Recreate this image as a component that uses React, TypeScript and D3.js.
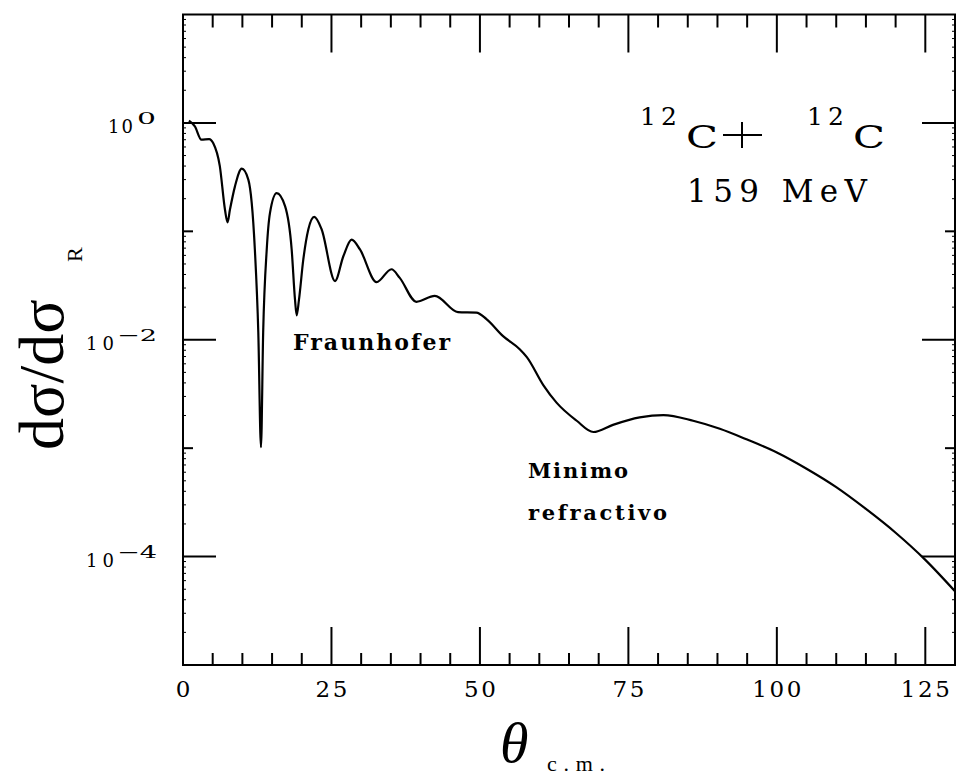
import React from "react";
import * as d3 from "d3";

const theta = [1.0, 2.0, 3.1, 4.4, 5.1, 6.2, 7.07, 7.5, 7.9, 8.75, 9.9, 11.0, 12.1, 12.68, 13.13, 13.5, 14.1, 14.65, 15.77, 17.2, 18.3, 18.86, 19.14, 19.53, 20.26, 21.1, 22.1, 23.35, 25.6, 27.0, 28.4, 29.8, 32.6, 35.1, 36.5, 39.3, 42.4, 46.3, 49.4, 51.1, 53.9, 56.7, 57.9, 60.7, 62.9, 66.3, 69.1, 72.4, 76.9, 80.9, 85.9, 90.4, 95, 100, 105, 110, 115, 120, 125, 130];
const ratio = [1.05, 0.93, 0.70, 0.71, 0.65, 0.40, 0.158, 0.121, 0.158, 0.26, 0.378, 0.30, 0.068, 0.0117, 0.00102, 0.0117, 0.068, 0.148, 0.225, 0.17, 0.068, 0.0234, 0.0168, 0.0234, 0.055, 0.104, 0.136, 0.104, 0.0348, 0.0589, 0.0839, 0.068, 0.034, 0.0447, 0.0372, 0.0224, 0.0254, 0.018, 0.0178, 0.0155, 0.0108, 0.00818, 0.00692, 0.0038, 0.00263, 0.00179, 0.00141, 0.00164, 0.00192, 0.00202, 0.00179, 0.00151, 0.0012, 0.000912, 0.000646, 0.000437, 0.000275, 0.000166, 0.0000933, 0.0000479];

const xMajorTicks = [0, 25, 50, 75, 100, 125];
const xTickLabels = ["0", "25", "50", "75", "100", "125"];
const yLabelExps = [0, -2, -4];
const yDecades = [-5, -4, -3, -2, -1, 0, 1];

const W = 956, H = 776;
const x = d3.scaleLinear().domain([0, 130]).range([183, 955]);
const y = d3.scaleLog().domain([1e-5, 10]).range([665, 14.5]);

export default function App() {
  const pts = theta.map((t, i) => [t, ratio[i]] as [number, number]);
  const line = d3.line<[number, number]>().x(d => x(d[0])).y(d => y(d[1])).curve(d3.curveMonotoneX);
  const minorX = d3.range(0, 131, 5).filter(v => v % 25 !== 0);
  const minorY: number[] = [];
  yDecades.forEach(e => { for (let k = 2; k <= 9; k++) { const v = k * Math.pow(10, e); if (v <= 10 && v >= 1e-5) minorY.push(v); } });
  const x0 = x.range()[0], x1 = x.range()[1];
  const yb = y.range()[0], yt = y.range()[1];
  const serif = "DejaVu Serif";
  return (
    <svg width={W} height={H} style={{ position: "fixed", left: 0, top: 0, background: "#fff" }}>
      <rect x={0} y={0} width={W} height={H} fill="#fff" />
      <g stroke="#000" strokeWidth={2} fill="none">
        <rect x={x0} y={yt} width={x1 - x0} height={yb - yt} />
        {xMajorTicks.map(v => (
          <g key={"xm" + v}>
            <line x1={x(v)} x2={x(v)} y1={yb} y2={yb - 38} />
            <line x1={x(v)} x2={x(v)} y1={yt} y2={yt + 38} />
          </g>
        ))}
        {minorX.map(v => (
          <g key={"xn" + v}>
            <line x1={x(v)} x2={x(v)} y1={yb} y2={yb - 12} />
            <line x1={x(v)} x2={x(v)} y1={yt} y2={yt + 13} />
          </g>
        ))}
        {yDecades.filter(e => e > -5 && e < 1).map(e => {
          const len = e % 2 === 0 ? 33 : 10;
          const yy = y(Math.pow(10, e));
          return (
            <g key={"yd" + e}>
              <line x1={x0} x2={x0 + len} y1={yy} y2={yy} />
              <line x1={x1} x2={x1 - len} y1={yy} y2={yy} />
            </g>
          );
        })}
        {minorY.map((v, i) => (
          <g key={"ym" + i} strokeWidth={1}>
            <line x1={x0} x2={x0 + 3} y1={y(v)} y2={y(v)} />
            <line x1={x1} x2={x1 - 3} y1={y(v)} y2={y(v)} />
          </g>
        ))}
      </g>
      <path d={line(pts) || ""} fill="none" stroke="#000" strokeWidth={2.2} strokeLinejoin="round" />
      <g fontFamily={serif} fill="#000">
        {xMajorTicks.map((v, i) => (
          <text key={"xl" + v} x={x(v)} y={697} fontSize={23} textAnchor="middle"
            textLength={xTickLabels[i].length * 17 - 2} lengthAdjust="spacing">{xTickLabels[i]}</text>
        ))}
        {yLabelExps.map(e => {
          const yy = y(Math.pow(10, e));
          const expText = e === 0 ? "0" : "\u2212" + Math.abs(e);
          const neg = e !== 0;
          return (
            <g key={"yl" + e}>
              <text x={neg ? 86 : 108} y={yy + 10} fontSize={18} textLength={neg ? 28 : 25} lengthAdjust="spacing">10</text>
              <text x={neg ? 117 : 137} y={yy + 1} fontSize={17} textLength={neg ? 40 : 19} lengthAdjust="spacingAndGlyphs">{expText}</text>
            </g>
          );
        })}
        <text x={293} y={350} fontSize={22} fontWeight="bold" textLength={157} lengthAdjust="spacing">Fraunhofer</text>
        <text x={528} y={478} fontSize={21} fontWeight="bold" textLength={100} lengthAdjust="spacing">Minimo</text>
        <text x={528} y={520} fontSize={21} fontWeight="bold" textLength={139} lengthAdjust="spacing">refractivo</text>
        <text x={640} y={125} fontSize={25} textLength={37} lengthAdjust="spacing">12</text>
        <text x={686} y={148} fontSize={32} textLength={32} lengthAdjust="spacingAndGlyphs">C</text>
        <text x={853} y={148} fontSize={32} textLength={32} lengthAdjust="spacingAndGlyphs">C</text>
        <text x={807} y={125} fontSize={25} textLength={37} lengthAdjust="spacing">12</text>
        <text x={687} y={202} fontSize={31} textLength={180} lengthAdjust="spacing">159 MeV</text>
      </g>
      <g stroke="#000" strokeWidth={2}>
        <line x1={742} x2={742} y1={122} y2={148} />
        <line x1={723} x2={762} y1={135} y2={135} />
      </g>
      <g fontFamily="Liberation Serif" fill="#000">
        <text transform="translate(63,450) rotate(-90)" fontSize={64}>dσ/dσ</text>
        <text transform="translate(82,262) rotate(-90)" fontSize={22}>R</text>
        <text x={500} y={762} fontSize={58} fontStyle="italic">θ</text>
        <text x={547} y={771} fontSize={22} textLength={58} lengthAdjust="spacing">c.m.</text>
      </g>
    </svg>
  );
}
